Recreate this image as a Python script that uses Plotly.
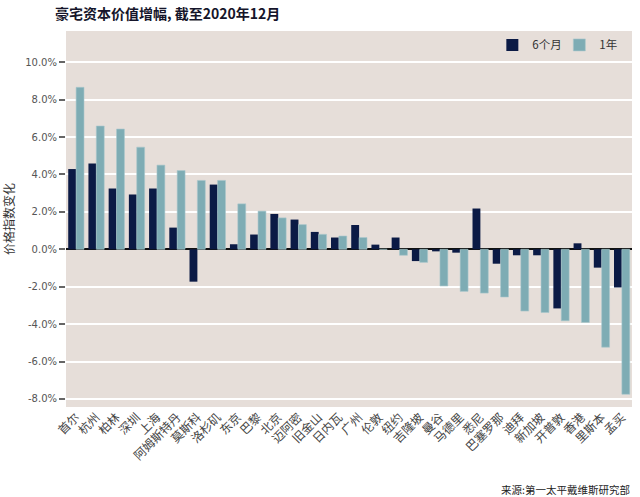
import plotly.graph_objects as go

cities = ["首尔", "杭州", "柏林", "深圳", "上海", "阿姆斯特丹", "莫斯科", "洛杉矶", "东京", "巴黎",
          "北京", "迈阿密", "旧金山", "日内瓦", "广州", "伦敦", "纽约", "吉隆坡", "曼谷", "马德里",
          "悉尼", "巴塞罗那", "迪拜", "新加坡", "开普敦", "香港", "里斯本", "孟买"]
six_months = [4.29, 4.59, 3.25, 2.93, 3.25, 1.16, -1.73, 3.46, 0.27, 0.79,
              1.89, 1.59, 0.93, 0.63, 1.30, 0.25, 0.63, -0.63, -0.11, -0.18,
              2.18, -0.77, -0.32, -0.32, -3.16, 0.32, -0.98, -2.04]
one_year = [8.66, 6.59, 6.43, 5.46, 4.50, 4.21, 3.68, 3.68, 2.43, 2.04,
            1.68, 1.32, 0.80, 0.71, 0.63, 0.0, -0.32, -0.70, -1.96, -2.25,
            -2.34, -2.55, -3.30, -3.38, -3.82, -3.91, -5.23, -7.75]
tick_vals = [-8, -6, -4, -2, 0, 2, 4, 6, 8, 10]
tick_text = [f"{v:.1f}%" for v in tick_vals]

DARK = "#0b1a45"
LIGHT = "#7eacb4"
BG = "#e6ded9"
FONT = "Noto Sans CJK SC"

fig = go.Figure()
fig.add_trace(go.Bar(x=cities, y=six_months, name="6个月", marker_color=DARK,
                     marker_line_width=0))
fig.add_trace(go.Bar(x=cities, y=one_year, name="1年", marker_color=LIGHT,
                     marker_line=dict(color="#a9c7cc", width=0.6)))

fig.update_layout(
    width=640, height=497,
    margin=dict(l=66, r=8, t=31, b=90, autoexpand=False),
    paper_bgcolor="white",
    plot_bgcolor=BG,
    barmode="group",
    bargap=0.22,
    bargroupgap=0,
    font=dict(family=FONT, size=11, color="#444444"),
    title=dict(text="<b>豪宅资本价值增幅, 截至2020年12月</b>", x=0.086, xanchor="left",
               y=0.972, yanchor="middle", automargin=False,
               font=dict(family=FONT, size=14, color="#15152a")),
    legend=dict(orientation="h", x=0.99, xanchor="right", y=0.963, yanchor="middle",
                bgcolor="rgba(0,0,0,0)", font=dict(size=11.5, color="#333333"),
                entrywidth=22, entrywidthmode="pixels", itemwidth=30, traceorder="normal"),
    showlegend=True,
)
fig.update_xaxes(tickangle=-45, showgrid=False, ticks="", automargin=False,
                 tickfont=dict(size=12, color="#444444"),
                 range=[-0.5, len(cities) - 0.5])
fig.update_yaxes(range=[-8.43, 11.67], tickvals=tick_vals, ticktext=tick_text, automargin=False,
                 showgrid=True, gridcolor="white", gridwidth=1.5,
                 zeroline=True, zerolinecolor="#111111", zerolinewidth=1.5,
                 ticks="outside", ticklen=6, tickcolor="#666666", tickwidth=1.5,
                 tickfont=dict(family="DejaVu Sans", size=10, color="#555555"),
                 title=dict(text="价格指数变化", font=dict(size=12, color="#333333"), standoff=12))
fig.add_annotation(text="来源:第一太平戴维斯研究部", xref="paper", yref="paper",
                   x=1.0, xanchor="right", y=-0.22, yanchor="middle", showarrow=False,
                   font=dict(size=10.5, color="#222222"))

fig.write_html("out.html", config={"displayModeBar": False},
               post_script="document.body.style.margin='0';")
